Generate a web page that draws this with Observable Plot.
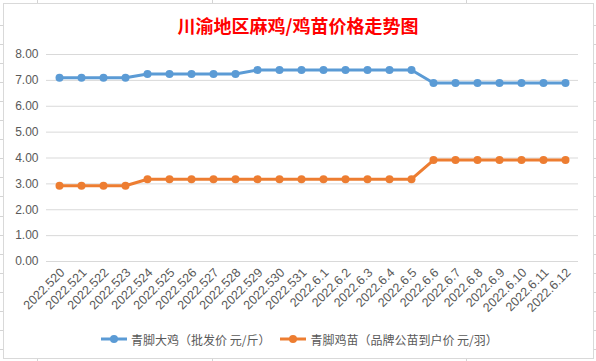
<!DOCTYPE html>
<html>
<head>
<meta charset="utf-8">
<script src="https://cdn.jsdelivr.net/npm/d3@7"></script>
<script src="https://cdn.jsdelivr.net/npm/@observablehq/plot@0.6"></script>
<style>
  html, body { margin: 0; padding: 0; background: #fff; }
  #wrap { position: relative; width: 596px; height: 361px; overflow: hidden; background: #fff; }
  #sheet { position: absolute; left: 0; top: 0; width: 596px; height: 361px; }
  #frame { position: absolute; left: 3px; top: 3px; width: 589px; height: 354px; border: 1px solid #d9d9d9; background: #fff; }
  #chart { position: absolute; left: 0; top: 0; }
  #title { position: absolute; left: 0; width: 596px; top: 12px; text-align: center;
           font-family: "Noto Sans CJK SC", sans-serif; font-weight: bold; font-size: 18px; color: #ff0000; line-height: 26px; }
  #legend { position: absolute; left: 100px; top: 330px; height: 18px; display: flex; align-items: center;
            font-family: "Noto Sans CJK SC", sans-serif; font-size: 12px; color: #595959; white-space: nowrap; }
  #legend .item { display: flex; align-items: center; }
  #legend svg { margin-right: 3px; }
</style>
</head>
<body>
<div id="wrap">
  <svg id="sheet" width="596" height="361"></svg>
  <div id="frame"></div>
  <div id="chart"></div>
  <div id="title">川渝地区麻鸡/鸡苗价格走势图</div>
  <div id="legend"></div>
</div>
<script>
// ---- data ----
const dates = ["2022.520","2022.521","2022.522","2022.523","2022.524","2022.525","2022.526","2022.527","2022.528","2022.529","2022.530","2022.531",
               "2022.6.1","2022.6.2","2022.6.3","2022.6.4","2022.6.5","2022.6.6","2022.6.7","2022.6.8","2022.6.9","2022.6.10","2022.6.11","2022.6.12"];
const bigChicken = [7.10,7.10,7.10,7.10,7.25,7.25,7.25,7.25,7.25,7.40,7.40,7.40,7.40,7.40,7.40,7.40,7.40,6.90,6.90,6.90,6.90,6.90,6.90,6.90];
const chick = [2.93,2.93,2.93,2.93,3.18,3.18,3.18,3.18,3.18,3.18,3.18,3.18,3.18,3.18,3.18,3.18,3.18,3.92,3.92,3.92,3.92,3.92,3.92,3.92];
const yTicks = [0,1,2,3,4,5,6,7,8];
const seriesNames = ["青脚大鸡（批发价 元/斤）","青脚鸡苗（品牌公苗到户价 元/羽）"];
const seriesColors = ["#5b9bd5","#ed7d31"];

const rows = [];
dates.forEach((d,i) => {
  rows.push({date: d, value: bigChicken[i], series: seriesNames[0]});
  rows.push({date: d, value: chick[i], series: seriesNames[1]});
});

// ---- spreadsheet background lines (decoration) ----
(function(){
  const s = d3.select("#sheet");
  for (let y = 25; y < 361; y += 19.05) {
    s.append("line").attr("x1",0).attr("x2",596).attr("y1",Math.round(y)+0.5).attr("y2",Math.round(y)+0.5).attr("stroke","#d4d4d4");
  }
  [37, 212, 466].forEach(x => s.append("line").attr("x1",x+0.5).attr("x2",x+0.5).attr("y1",0).attr("y2",361).attr("stroke","#d4d4d4"));
})();

// ---- chart ----
const chart = Plot.plot({
  width: 596,
  height: 361,
  marginLeft: 46,
  marginRight: 18,
  marginTop: 54,
  marginBottom: 100,
  style: {background: "transparent", fontFamily: "'Liberation Sans', 'Noto Sans CJK SC', sans-serif"},
  x: {type: "point", domain: dates, padding: 0.5, label: null},
  y: {domain: [0, 8], label: null},
  color: {domain: seriesNames, range: seriesColors},
  marks: [
    Plot.gridY(yTicks, {stroke: "#d9d9d9", strokeOpacity: 1, strokeWidth: 1}),
    Plot.axisY(yTicks, {tickSize: 0, tickPadding: 8, tickFormat: d => d.toFixed(2), fontSize: 12, fill: "#595959", label: null}),
    Plot.axisX({tickSize: 0, tickPadding: 9, tickRotate: -45, fontSize: 12.5, fill: "#595959", label: null, dx: 3}),
    Plot.line(rows, {x: "date", y: "value", z: "series", stroke: "series", strokeWidth: 3, strokeLinejoin: "round"}),
    Plot.dot(rows, {x: "date", y: "value", fill: "series", r: 4, stroke: "none"})
  ]
});
document.getElementById("chart").appendChild(chart);

// ---- legend ----
const leg = d3.select("#legend");
seriesNames.forEach((name, i) => {
  const it = leg.append("div").attr("class","item").style("margin-right", i === 0 ? "9px" : "0");
  const sv = it.append("svg").attr("width", 28).attr("height", 12);
  sv.append("line").attr("x1",1).attr("x2",27).attr("y1",6).attr("y2",6).attr("stroke",seriesColors[i]).attr("stroke-width",3);
  sv.append("circle").attr("cx",14).attr("cy",6).attr("r",4).attr("fill",seriesColors[i]);
  it.append("span").text(name);
});
</script>
</body>
</html>
